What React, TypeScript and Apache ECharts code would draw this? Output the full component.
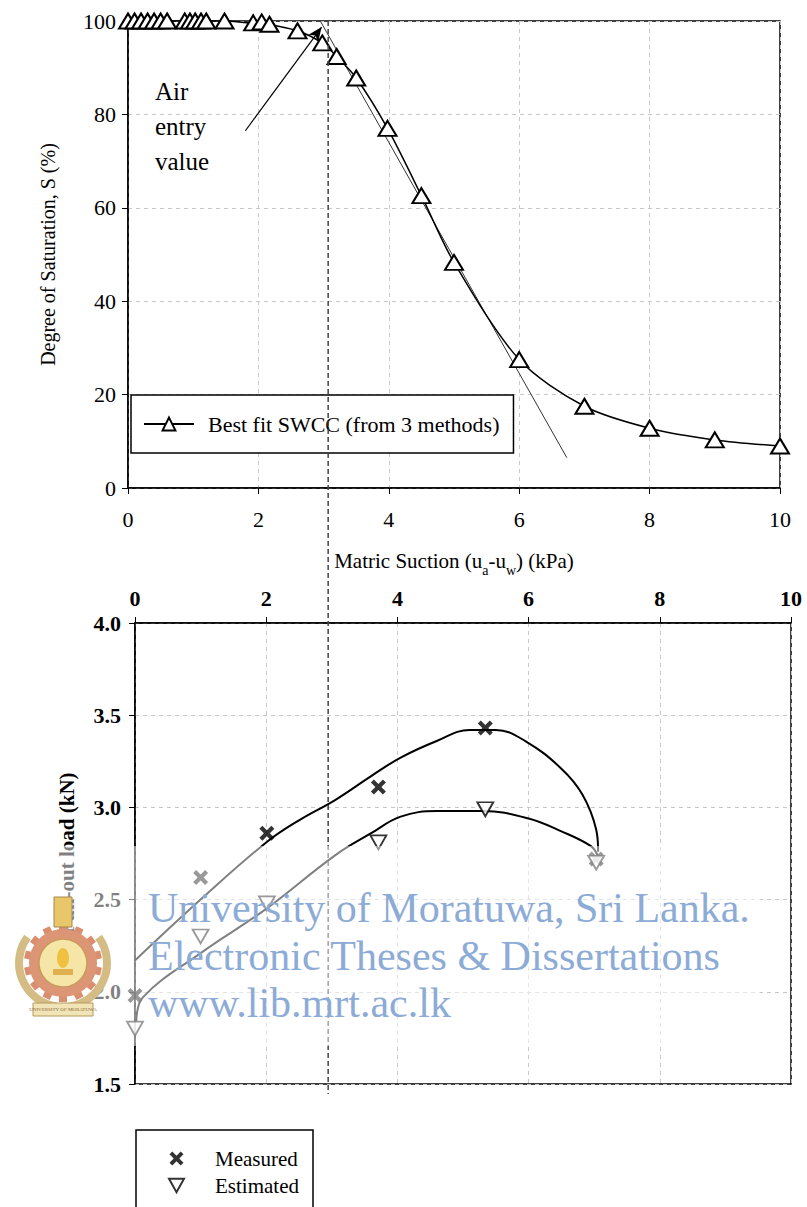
import React, { useEffect, useRef } from 'react';
import * as echarts from 'echarts';

const FONT = 'Liberation Serif, serif';

// ---- Top chart: SWCC ----
const swccSuction = [0, 0.1, 0.2, 0.3, 0.4, 0.5, 0.6, 0.87, 0.95, 1.03, 1.12, 1.2, 1.48, 1.92, 2.05, 2.17, 2.6, 2.98, 3.2, 3.5, 3.98, 4.5, 5.0, 6.0, 7.0, 8.0, 9.0, 10.0];
const swccSaturation = [100, 100, 100, 100, 100, 100, 100, 100, 100, 100, 100, 100, 100, 99.6, 99.8, 99.3, 97.9, 95.3, 92.4, 87.8, 77.0, 62.6, 48.3, 27.5, 17.5, 12.8, 10.3, 9.0];
const tangentStart = [2.95, 100];
const tangentEnd = [6.73, 6.5];
const arrowStart = [1.8, 76.5];
const arrowEnd = [2.97, 98.7];
const airEntrySuction = 3.07;
const swccXTicks = { min: 0, max: 10, interval: 2 };
const swccYTicks = { min: 0, max: 100, interval: 20 };

// ---- Bottom chart: pull-out load ----
const loadSuction = [0, 1.0, 2.01, 3.71, 5.34, 7.03];
const measuredLoad = [1.98, 2.62, 2.86, 3.11, 3.43, 2.72];
const estimatedLoad = [1.8, 2.3, 2.48, 2.81, 2.99, 2.7];
const measuredFitX = [0, 1.0, 2.0, 2.5, 3.05, 3.6, 4.05, 4.6, 5.1, 5.5, 5.95, 6.5, 6.82, 7.03, 7.06];
const measuredFitY = [2.17, 2.5, 2.81, 2.93, 3.04, 3.17, 3.27, 3.36, 3.42, 3.42, 3.36, 3.21, 3.07, 2.88, 2.76];
const estimatedFitX = [0.02, 0.12, 1.0, 2.0, 3.05, 3.6, 4.05, 4.6, 5.3, 6.0, 6.5, 6.95, 7.05];
const estimatedFitY = [1.84, 1.97, 2.21, 2.45, 2.74, 2.86, 2.95, 2.98, 2.98, 2.94, 2.87, 2.79, 2.74];
const loadXTicks = { min: 0, max: 10, interval: 2 };
const loadYTicks = { min: 1.5, max: 4.0, interval: 0.5 };

const zip = (xs: number[], ys: number[]) => xs.map((x, i) => [x, ys[i]]);

const X_SYMBOL = 'path://M2,0 L5,3 L8,0 L10,2 L7,5 L10,8 L8,10 L5,7 L2,10 L0,8 L3,5 L0,2 Z';
const DOWN_TRI = 'path://M0,0 L10,0 L5,9 Z';

const gridLine = { show: true, lineStyle: { color: '#c8c8c8', type: [4, 4] as any, width: 1 } };
const blackLine = { show: true, lineStyle: { color: '#000', width: 1.5 } };

export default function App() {
  const ref = useRef<HTMLDivElement>(null);
  useEffect(() => {
    if (!ref.current) return;
    const chart = echarts.init(ref.current, null, { renderer: 'svg' });
    const option: any = {
      animation: false,
      backgroundColor: '#fff',
      textStyle: { fontFamily: FONT, color: '#000' },
      grid: [
        { left: 128, top: 21, width: 652, height: 467, show: true, borderColor: '#000', borderWidth: 1.5, backgroundColor: 'transparent' },
        { left: 135, top: 623, width: 656, height: 461, show: true, borderColor: '#000', borderWidth: 1.5, backgroundColor: 'transparent' },
      ],
      xAxis: [
        {
          type: 'value', gridIndex: 0, position: 'bottom', ...swccXTicks,
          axisLine: blackLine, axisTick: { show: true, length: 6, lineStyle: { color: '#000' } },
          axisLabel: { fontSize: 22, color: '#000', fontFamily: FONT, margin: 20 },
          splitLine: gridLine,
          name: 'Matric Suction (u{s|a}-u{s|w}) (kPa)', nameLocation: 'middle', nameGap: 62,
          nameTextStyle: {
            fontSize: 21, color: '#000', fontFamily: FONT,
            rich: { s: { fontSize: 14, fontFamily: FONT, color: '#000', verticalAlign: 'bottom', lineHeight: 14, padding: [0, 0, -6, 0] } },
          },
        },
        {
          type: 'value', gridIndex: 1, position: 'top', ...loadXTicks,
          axisLine: blackLine, axisTick: { show: true, length: 6, inside: false, lineStyle: { color: '#000' } },
          axisLabel: { fontSize: 22, fontWeight: 'bold', color: '#000', fontFamily: FONT, margin: 14 },
          splitLine: gridLine,
        },
      ],
      yAxis: [
        {
          type: 'value', gridIndex: 0, ...swccYTicks,
          axisLine: blackLine, axisTick: { show: true, length: 6, lineStyle: { color: '#000' } },
          axisLabel: { fontSize: 22, color: '#000', fontFamily: FONT, margin: 12 },
          splitLine: gridLine,
          name: 'Degree of Saturation, S (%)', nameLocation: 'middle', nameGap: 70,
          nameTextStyle: { fontSize: 20, color: '#000', fontFamily: FONT },
        },
        {
          type: 'value', gridIndex: 1, ...loadYTicks,
          axisLine: blackLine, axisTick: { show: true, length: 6, lineStyle: { color: '#000' } },
          axisLabel: { fontSize: 22, fontWeight: 'bold', color: '#000', fontFamily: FONT, margin: 14, formatter: (v: number) => v.toFixed(1) },
          splitLine: gridLine,
          name: 'Pull-out load (kN)', nameLocation: 'middle', nameGap: 58,
          nameTextStyle: { fontSize: 21, fontWeight: 'bold', color: '#000', fontFamily: FONT },
        },
      ],
      legend: [
        {
          left: 131, top: 395, orient: 'horizontal', selectedMode: false,
          data: ['Best fit SWCC (from 3 methods)'],
          itemWidth: 50, itemHeight: 16,
          padding: [18, 14, 18, 12],
          borderColor: '#000', borderWidth: 1.5, backgroundColor: '#fff',
          textStyle: { fontSize: 22, fontFamily: FONT, color: '#000', padding: [0, 0, 0, 9], lineHeight: 20 },
        },
        {
          left: 168, top: 1148, orient: 'vertical', selectedMode: false, z: 10,
          data: ['Measured', 'Estimated'],
          itemWidth: 15, itemHeight: 14, itemGap: 6,
          padding: 0,
          textStyle: { fontSize: 21, fontFamily: FONT, color: '#000', padding: [0, 0, 0, 26], lineHeight: 20 },
        },
      ],
      series: [
        {
          name: 'Best fit SWCC (from 3 methods)', type: 'line', xAxisIndex: 0, yAxisIndex: 0,
          data: zip(swccSuction, swccSaturation), smooth: 0.3, clip: false,
          symbol: 'triangle', symbolSize: [18, 15],
          itemStyle: { color: '#fff', borderColor: '#000', borderWidth: 2 },
          lineStyle: { color: '#000', width: 1.5 },
          z: 5,
          markLine: {
            silent: true, animation: false, label: { show: false },
            data: [
              [
                { coord: tangentStart, symbol: 'none', lineStyle: { color: '#333', width: 1, type: 'solid' } },
                { coord: tangentEnd, symbol: 'none' },
              ],
              [
                { coord: arrowStart, symbol: 'none', lineStyle: { color: '#000', width: 1.2, type: 'solid' } },
                { coord: arrowEnd, symbol: 'arrow', symbolSize: [9, 14] },
              ],
            ],
          },
        },
        {
          name: 'Measured fit', type: 'line', xAxisIndex: 1, yAxisIndex: 1,
          data: zip(measuredFitX, measuredFitY), smooth: 0.4, showSymbol: false, symbol: 'none', clip: false,
          lineStyle: { color: '#000', width: 2 },
        },
        {
          name: 'Estimated fit', type: 'line', xAxisIndex: 1, yAxisIndex: 1,
          data: zip(estimatedFitX, estimatedFitY), smooth: 0.4, showSymbol: false, symbol: 'none', clip: false,
          lineStyle: { color: '#000', width: 2 },
        },
        {
          name: 'Measured', type: 'scatter', xAxisIndex: 1, yAxisIndex: 1,
          data: zip(loadSuction, measuredLoad), symbol: X_SYMBOL, symbolSize: 15, clip: false,
          itemStyle: { color: '#000' }, z: 6,
        },
        {
          name: 'Estimated', type: 'scatter', xAxisIndex: 1, yAxisIndex: 1,
          data: zip(loadSuction, estimatedLoad), symbol: DOWN_TRI, symbolSize: [16, 14], clip: false,
          itemStyle: { color: '#fff', borderColor: '#000', borderWidth: 1.8 }, z: 6,
        },
      ],
    };
    chart.setOption(option);

    const topPt = chart.convertToPixel({ xAxisIndex: 0, yAxisIndex: 0 }, [airEntrySuction, swccYTicks.max]) as number[];
    const botPt = chart.convertToPixel({ xAxisIndex: 1, yAxisIndex: 1 }, [airEntrySuction, loadYTicks.min]) as number[];

    const teeth: any[] = [];
    for (let i = 0; i < 14; i++) {
      teeth.push({
        type: 'rect', rotation: (i * 2 * Math.PI) / 14, x: 0, y: 0, z: 81,
        shape: { x: -4, y: -39, width: 8, height: 8 }, style: { fill: '#d98e70' },
      });
    }

    const graphics: any[] = [
      {
        type: 'line', z: 50,
        shape: { x1: topPt[0], y1: topPt[1], x2: topPt[0], y2: botPt[1] + 10 },
        style: { stroke: '#444', lineWidth: 1.5, lineDash: [5, 3] },
      },
      {
        type: 'text', left: 155, top: 74, z: 50,
        style: { text: 'Air\nentry\nvalue', fontSize: 25, lineHeight: 35, fontFamily: FONT, fill: '#000' },
      },
      // bottom legend frame (runs off the page bottom)
      {
        type: 'rect', z: 1, shape: { x: 136, y: 1130, width: 177, height: 120 },
        style: { fill: '#fff', stroke: '#000', lineWidth: 1.5 },
      },
      // watermark veil
      {
        type: 'rect', z: 60, shape: { x: 0, y: 846, width: 760, height: 200 },
        style: { fill: 'rgba(255,255,255,0.5)' },
      },
      {
        type: 'text', z: 70, x: 148, y: 908,
        style: { text: 'University of Moratuwa, Sri Lanka.', fontSize: 42, fontFamily: FONT, fill: '#8cabd6', verticalAlign: 'middle' },
      },
      {
        type: 'text', z: 70, x: 148, y: 956,
        style: { text: 'Electronic Theses & Dissertations', fontSize: 42, fontFamily: FONT, fill: '#8cabd6', verticalAlign: 'middle' },
      },
      {
        type: 'text', z: 70, x: 148, y: 1003,
        style: { text: 'www.lib.mrt.ac.lk', fontSize: 42, fontFamily: FONT, fill: '#8cabd6', verticalAlign: 'middle' },
      },
      {
        type: 'group', x: 63, y: 963, z: 80,
        children: [
          { type: 'arc', z: 80, shape: { cx: 0, cy: 0, r: 44, startAngle: Math.PI * 0.55, endAngle: Math.PI * 1.2 }, style: { stroke: '#d4bc84', lineWidth: 8, fill: null } },
          { type: 'arc', z: 80, shape: { cx: 0, cy: 0, r: 44, startAngle: -Math.PI * 0.2, endAngle: Math.PI * 0.45 }, style: { stroke: '#d4bc84', lineWidth: 8, fill: null } },
          ...teeth,
          { type: 'ring', z: 82, shape: { cx: 0, cy: 0, r: 34, r0: 24 }, style: { fill: '#dc9676' } },
          { type: 'circle', z: 83, shape: { cx: 0, cy: 0, r: 24 }, style: { fill: '#f5e6a8', stroke: '#c89b5a', lineWidth: 1.5 } },
          { type: 'ellipse', z: 84, shape: { cx: 0, cy: -5, rx: 6, ry: 10 }, style: { fill: '#f0c040' } },
          { type: 'rect', z: 84, shape: { x: -10, y: 6, width: 20, height: 6 }, style: { fill: '#e0b050' } },
          { type: 'rect', z: 81, shape: { x: -9, y: -66, width: 18, height: 30 }, style: { fill: '#e8c66a', stroke: '#a8874a', lineWidth: 1 } },
          { type: 'rect', z: 85, shape: { x: -30, y: 40, width: 60, height: 13 }, style: { fill: '#f1e4b6', stroke: '#b89a5c', lineWidth: 1 } },
          { type: 'text', z: 86, x: 0, y: 46.5, style: { text: 'UNIVERSITY OF MORATUWA', fontSize: 5, fill: '#8a6a3a', align: 'center', verticalAlign: 'middle', fontFamily: FONT } },
        ],
      },
    ];
    chart.setOption({ graphic: graphics });

    return () => chart.dispose();
  }, []);

  return <div ref={ref} style={{ position: 'absolute', left: 0, top: 0, width: 807, height: 1207 }} />;
}
